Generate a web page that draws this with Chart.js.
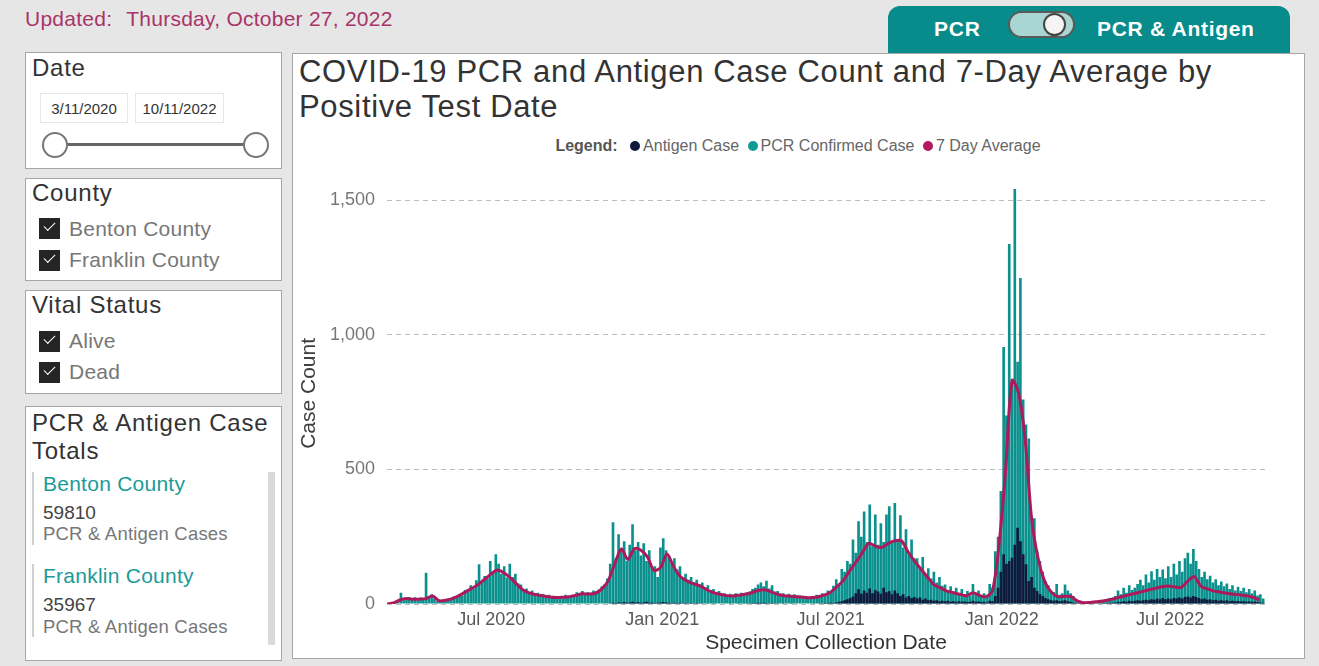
<!DOCTYPE html>
<html>
<head>
<meta charset="utf-8">
<script src="https://cdn.jsdelivr.net/npm/chart.js@4.4.0/dist/chart.umd.min.js"></script>
<style>
  body { margin: 0; width: 1319px; height: 666px; background: #e6e6e6; position: relative; overflow: hidden;
         font-family: "Liberation Sans", Arial, sans-serif; }
  .abs { position: absolute; white-space: nowrap; line-height: 1.15; }
  .panel { position: absolute; background: #fff; border: 1px solid #a6a6a6; box-sizing: border-box; }
  .box-title { color: #333; font-size: 24px; letter-spacing: 0.75px; }
  .chk { position: absolute; width: 21px; height: 21px; background: #252525; }
  .chk::after { content: ""; position: absolute; left: 5px; top: 4px; width: 10px; height: 5px;
                border-left: 1.5px solid #fff; border-bottom: 1.5px solid #fff; transform: rotate(-45deg); }
  .chk-label { color: #777; font-size: 21px; letter-spacing: 0.25px; }
  .datebox { position: absolute; border: 1px solid #e6e6e6; height: 30px; line-height: 30px; text-align: center;
             font-size: 15px; color: #333; box-sizing: border-box; }
  .knob { position: absolute; width: 26px; height: 26px; border-radius: 50%; background: #fff;
          border: 2px solid #777; box-sizing: border-box; }
  .dot { display: inline-block; width: 10px; height: 10px; border-radius: 50%; margin: 0 3px 0 8px; vertical-align: 0; }
</style>
</head>
<body>

<!-- header -->
<div class="abs" style="left:25px;top:7px;font-size:21px;color:#a93467;letter-spacing:0.25px;">Updated:<span style="margin-left:14px">Thursday, October 27, 2022</span></div>

<div class="abs" style="left:888px;top:6px;width:402px;height:47px;background:#078b8b;border-radius:12px 12px 0 0;"></div>
<div class="abs" style="left:934px;top:17px;font-size:21px;font-weight:bold;color:#fff;letter-spacing:0.8px;">PCR</div>
<div class="abs" style="left:1008px;top:11px;width:67px;height:27px;border-radius:14px;background:#a9d6d3;border:2.5px solid #5a5a5a;box-sizing:border-box;"></div>
<div class="abs" style="left:1043px;top:13px;width:23px;height:23px;border-radius:50%;background:#f4f4f4;border:2px solid #444;box-sizing:border-box;"></div>
<div class="abs" style="left:1097px;top:17px;font-size:21px;font-weight:bold;color:#fff;letter-spacing:0.7px;">PCR &amp; Antigen</div>

<!-- slicers -->
<div class="panel" style="left:25px;top:52px;width:257px;height:117px;"></div>
<div class="abs box-title" style="left:32px;top:54px;">Date</div>
<div class="datebox" style="left:40px;top:93px;width:88px;">3/11/2020</div>
<div class="datebox" style="left:135px;top:93px;width:89px;">10/11/2022</div>
<div class="abs" style="left:56px;top:143px;width:200px;height:3px;background:#666;"></div>
<div class="knob" style="left:42px;top:132px;"></div>
<div class="knob" style="left:243px;top:132px;"></div>

<div class="panel" style="left:25px;top:178px;width:257px;height:103px;"></div>
<div class="abs box-title" style="left:32px;top:179px;">County</div>
<div class="chk" style="left:39px;top:218px;"></div>
<div class="abs chk-label" style="left:69px;top:217px;">Benton County</div>
<div class="chk" style="left:39px;top:250px;"></div>
<div class="abs chk-label" style="left:69px;top:248px;">Franklin County</div>

<div class="panel" style="left:25px;top:290px;width:257px;height:104px;"></div>
<div class="abs box-title" style="left:32px;top:291px;">Vital Status</div>
<div class="chk" style="left:39px;top:331px;"></div>
<div class="abs chk-label" style="left:69px;top:329px;">Alive</div>
<div class="chk" style="left:39px;top:362px;"></div>
<div class="abs chk-label" style="left:69px;top:360px;">Dead</div>

<div class="panel" style="left:25px;top:406px;width:257px;height:255px;"></div>
<div class="abs box-title" style="left:32px;top:409px;">PCR &amp; Antigen Case</div>
<div class="abs box-title" style="left:32px;top:437px;">Totals</div>
<div class="abs" style="left:32px;top:472px;width:2px;height:73px;background:#cfcfcf;"></div>
<div class="abs" style="left:32px;top:564px;width:2px;height:73px;background:#cfcfcf;"></div>
<div class="abs" style="left:268px;top:472px;width:7px;height:173px;background:#dadada;"></div>
<div class="abs" style="left:43px;top:472px;font-size:21px;color:#1b9b97;letter-spacing:0.25px;">Benton County</div>
<div class="abs" style="left:43px;top:502px;font-size:19px;color:#444;">59810</div>
<div class="abs" style="left:43px;top:523px;font-size:18.5px;color:#777;letter-spacing:0.2px;">PCR &amp; Antigen Cases</div>
<div class="abs" style="left:43px;top:564px;font-size:21px;color:#1b9b97;letter-spacing:0.25px;">Franklin County</div>
<div class="abs" style="left:43px;top:594px;font-size:19px;color:#444;">35967</div>
<div class="abs" style="left:43px;top:616px;font-size:18.5px;color:#777;letter-spacing:0.2px;">PCR &amp; Antigen Cases</div>

<!-- chart visual -->
<div class="panel" style="left:292px;top:53px;width:1013px;height:606px;"></div>
<div class="abs" style="left:299px;top:54px;font-size:31px;line-height:35px;color:#333;letter-spacing:0.65px;">COVID-19 PCR and Antigen Case Count and 7-Day Average by<br>Positive Test Date</div>
<div class="abs" style="left:293px;top:137px;width:1010px;text-align:center;font-size:16px;color:#666;">
  <b style="color:#555">Legend:</b>
  <span class="dot" style="background:#101a3b"></span>Antigen Case
  <span class="dot" style="background:#139a97;margin-left:4px"></span>PCR Confirmed Case
  <span class="dot" style="background:#b21c5c;margin-left:4px"></span>7 Day Average
</div>
<div style="position:absolute;left:293px;top:160px;width:1010px;height:496px;">
  <canvas id="caseChart"></canvas>
</div>

<script>
const startDate = "2020-03-11";
const endDate = "2022-10-11";
const barStep = 3;   // days between bar samples
const avgStep = 7;   // days between 7-day-average samples

// PCR confirmed cases, one value every 3 days from 3/11/2020
const pcrCases = [
  0, 0, 2, 6, 12, 42, 14, 22, 26, 18,
  25, 14, 24, 20, 116, 30, 36, 20, 10, 14,
  12, 18, 20, 16, 28, 24, 36, 32, 52, 56,
  70, 58, 88, 148, 80, 104, 96, 160, 118, 185,
  150, 112, 140, 98, 150, 100, 112, 76, 72, 54,
  58, 44, 50, 40, 42, 30, 36, 28, 34, 22,
  28, 22, 30, 26, 34, 24, 32, 30, 44, 40,
  48, 36, 44, 40, 50, 46, 54, 66, 72, 95,
  150, 304, 170, 259, 200, 233, 160, 220, 296, 200,
  230, 180, 226, 160, 200, 130, 140, 100, 210, 244,
  200, 180, 150, 170, 128, 140, 96, 112, 90, 100,
  82, 90, 72, 80, 60, 70, 52, 56, 40, 48,
  36, 40, 30, 38, 28, 40, 32, 42, 34, 44,
  46, 56, 60, 72, 80, 66, 86, 58, 70, 46,
  48, 34, 40, 30, 38, 28, 36, 26, 32, 28,
  30, 24, 28, 22, 34, 30, 40, 34, 50, 44,
  68, 92, 75, 130, 120, 160, 150, 240, 190, 307,
  250, 344, 230, 370, 215, 333, 220, 300, 230, 333,
  363, 230, 375, 240, 330, 210, 278, 190, 240, 170,
  170, 130, 175, 110, 133, 95, 120, 80, 100, 68,
  72, 52, 66, 46, 60, 40, 56, 36, 48, 32,
  74, 40, 50, 28, 40, 26, 74, 60, 196, 250,
  420, 955, 700, 1338, 820, 1542, 900, 1211, 760, 667,
  615, 326, 319, 196, 160, 120, 85, 70, 50, 45,
  74, 34, 40, 72, 50, 40, 30, 18, 12, 8,
  6, 8, 6, 10, 8, 12, 10, 16, 14, 22,
  24, 30, 50, 36, 60, 42, 70, 52, 60, 74,
  90, 70, 110, 80, 122, 90, 130, 100, 128, 96,
  140, 100, 150, 110, 160, 120, 170, 190, 150, 204,
  160, 130, 100, 120, 92, 105, 80, 92, 70, 84,
  66, 76, 56, 70, 50, 64, 48, 60, 44, 56,
  40, 50, 32, 36, 20
];

// Antigen cases, same dates as pcrCases
const antigenCases = [
  0, 0, 0, 0, 0, 0, 0, 0, 0, 0,
  0, 0, 0, 0, 0, 0, 0, 0, 0, 0,
  0, 0, 0, 0, 0, 0, 0, 0, 0, 0,
  0, 0, 0, 0, 0, 0, 0, 0, 0, 0,
  0, 0, 0, 0, 0, 0, 0, 0, 0, 0,
  0, 0, 0, 0, 0, 0, 0, 0, 0, 0,
  0, 0, 0, 0, 0, 0, 0, 0, 0, 0,
  0, 0, 0, 0, 0, 0, 0, 0, 0, 0,
  3, 5, 4, 6, 5, 7, 5, 6, 8, 6,
  7, 5, 6, 8, 5, 6, 4, 5, 6, 7,
  6, 5, 4, 5, 4, 5, 3, 4, 3, 4,
  3, 4, 3, 3, 2, 3, 2, 3, 2, 2,
  2, 2, 2, 3, 2, 2, 3, 2, 3, 3,
  3, 4, 4, 5, 4, 5, 4, 3, 4, 3,
  3, 2, 3, 2, 2, 3, 2, 2, 2, 2,
  2, 2, 2, 3, 2, 3, 3, 4, 4, 5,
  4, 6, 8, 10, 14, 18, 22, 28, 40, 55,
  38, 50, 42, 58, 40, 52, 46, 38, 60, 44,
  48, 36, 50, 40, 30, 36, 24, 30, 22, 26,
  20, 24, 16, 20, 14, 16, 12, 14, 10, 12,
  10, 12, 8, 10, 8, 10, 8, 9, 7, 8,
  12, 8, 9, 7, 8, 6, 12, 10, 30, 60,
  120, 185, 150, 160, 172, 220, 283, 233, 185, 148,
  85, 100, 60, 48, 37, 30, 22, 18, 14, 12,
  14, 10, 12, 14, 10, 8, 6, 4, 3, 2,
  2, 2, 2, 3, 2, 3, 3, 4, 4, 5,
  5, 6, 8, 7, 10, 8, 12, 10, 12, 14,
  12, 14, 16, 14, 18, 16, 20, 18, 22, 18,
  20, 18, 22, 20, 24, 20, 26, 28, 24, 30,
  26, 22, 18, 20, 16, 18, 14, 16, 12, 14,
  12, 14, 10, 12, 10, 11, 9, 10, 8, 9,
  8, 9, 7, 6, 5
];

// 7 day average, one value per week from 3/11/2020
const sevenDayAvg = [
  0, 4, 15, 20, 18, 18, 20, 30, 12, 14,
  20, 30, 44, 58, 72, 92, 112, 126, 115, 96,
  72, 50, 40, 34, 30, 26, 24, 25, 27, 32,
  38, 37, 40, 56, 88, 150, 205, 165, 205, 200,
  175, 125, 135, 186, 140, 103, 87, 76, 68, 55,
  43, 37, 32, 30, 33, 36, 42, 50, 53, 45,
  36, 31, 29, 27, 25, 23, 26, 32, 42, 62,
  85, 120, 155, 190, 225, 215, 210, 225, 235, 235,
  195, 160, 130, 100, 72, 60, 48, 42, 36, 31,
  42, 32, 27, 50, 220, 493, 830, 785, 616, 320,
  170, 85, 45, 28, 28, 28, 12, 5, 6, 8,
  11, 16, 22, 28, 34, 40, 46, 53, 58, 64,
  67, 63, 62, 85, 102, 66, 56, 48, 44, 40,
  36, 34, 31, 25, 15
];

const xTickDates = ["2020-07-01", "2021-01-01", "2021-07-01", "2022-01-01", "2022-07-01"];
const xTickLabels = ["Jul 2020", "Jan 2021", "Jul 2021", "Jan 2022", "Jul 2022"];
const yTicks = [0, 500, 1000, 1500];
const yMax = 1565;

// ---- helpers ----
function dayOf(iso) { return Math.round((Date.parse(iso) - Date.parse(startDate)) / 86400000); }
const lastDay = dayOf(endDate);
const xTickDays = xTickDates.map(dayOf);
const pts = (arr, step) => arr.map((v, i) => ({ x: i * step, y: v }));

Chart.defaults.font.family = "'Liberation Sans', Arial, sans-serif";

new Chart(document.getElementById("caseChart"), {
  type: "bar",
  data: {
    datasets: [
      {
        type: "line", label: "7 Day Average", data: pts(sevenDayAvg, avgStep),
        borderColor: "#ad1a5b", borderWidth: 3, pointRadius: 0, tension: 0.3, fill: false
      },
      {
        label: "Antigen Case", data: pts(antigenCases, barStep), backgroundColor: "#0f1a3c",
        grouped: false, barPercentage: 1, categoryPercentage: 0.95
      },
      {
        label: "PCR Confirmed Case", data: pts(pcrCases, barStep), backgroundColor: "#0a918e",
        grouped: false, barPercentage: 1, categoryPercentage: 0.95
      }
    ]
  },
  options: {
    responsive: true,
    maintainAspectRatio: false,
    animation: false,
    layout: { padding: { left: 0, right: 38, top: 0, bottom: 0 } },
    plugins: { legend: { display: false }, tooltip: { enabled: false } },
    scales: {
      x: {
        type: "linear", min: 0, max: lastDay, offset: false,
        grid: { display: false }, border: { display: false },
        afterBuildTicks: s => { s.ticks = xTickDays.map(v => ({ value: v })); },
        afterFit: s => { s.height = 52; },
        ticks: {
          autoSkip: false, maxRotation: 0, padding: -3, color: "#595959", font: { size: 18 },
          callback: v => xTickLabels[xTickDays.indexOf(v)]
        },
        title: { display: true, text: "Specimen Collection Date", color: "#333", font: { size: 21 }, padding: { top: 0, bottom: 0 } }
      },
      y: {
        min: 0, max: yMax,
        grid: { color: "#bdbdbd", lineWidth: 1, drawTicks: false },
        border: { display: false, dash: [5, 4] },
        afterBuildTicks: s => { s.ticks = yTicks.map(v => ({ value: v })); },
        afterFit: s => { s.width = 94; },
        ticks: { padding: 12, color: "#777", font: { size: 18 }, callback: v => v.toLocaleString("en-US") },
        title: { display: true, text: "Case Count", color: "#404040", font: { size: 21 }, padding: { top: 4, bottom: 0 } }
      }
    }
  }
});
</script>
</body>
</html>
